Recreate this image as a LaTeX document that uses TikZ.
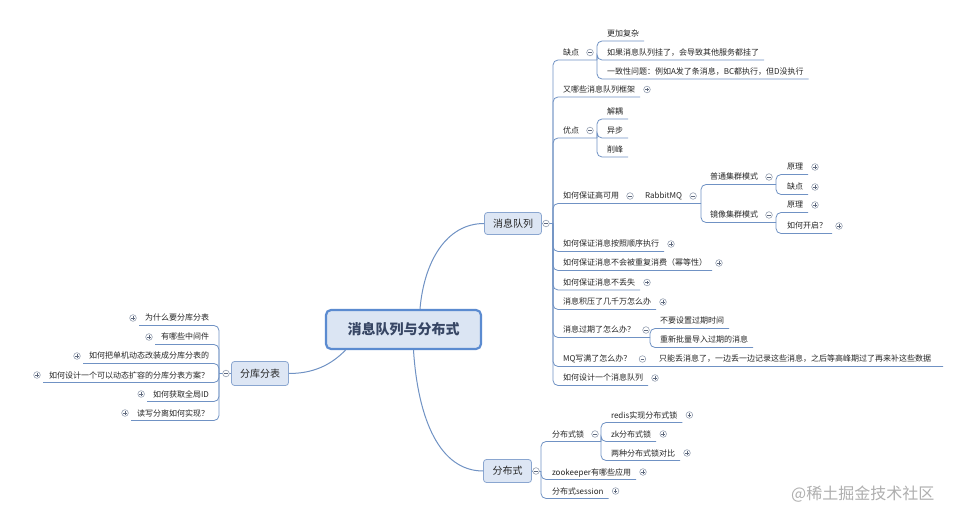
\documentclass[tikz,border=0pt]{standalone}
\usepackage{fontspec}
\setmainfont{Noto Sans CJK SC}
\usetikzlibrary{calc}
\definecolor{lineblue}{RGB}{112,146,196}
\definecolor{txtc}{RGB}{38,38,38}
\definecolor{boxfill}{RGB}{221,230,244}
\definecolor{boxdraw}{RGB}{138,166,208}
\definecolor{mainfill}{RGB}{219,229,243}
\definecolor{maindraw}{RGB}{91,139,208}
\definecolor{icondraw}{RGB}{150,160,178}
\definecolor{iconmark}{RGB}{95,105,125}
\definecolor{maintext}{RGB}{55,70,100}
\definecolor{wmgray}{RGB}{175,175,175}
\newcommand\leafR[2]{\draw[conn] (#1) |- ($(#2.south east)+(5,0)$);}
\newcommand\plusR[1]{\pic at ($(#1.south east)+(12,-7.5)$) {plusicon};}
\newcommand\minusR[1]{\pic at ($(#1.south east)+(11,-7.5)$) {minusicon};}
\newcommand\leafL[2]{\draw[conn] (#1) |- ($(#2.south west)+(-6,0)$);}
\newcommand\plusL[1]{\pic at ($(#1.south west)+(-12,-7.5)$) {plusicon};}
\begin{document}
\begin{tikzpicture}[x=1pt,y=-1pt,
  topic/.style={font=\fontsize{8}{9}\selectfont, text=txtc, inner xsep=0pt, inner ysep=4.5pt, text height=7pt, text depth=0pt, outer sep=0pt, anchor=south west},
  ltopic/.style={topic, anchor=south east},
  mainbranch/.style={draw=boxdraw, line width=0.8pt, fill=boxfill, rounded corners=3pt, font=\fontsize{10}{12}\selectfont, text=txtc, inner sep=0pt},
  conn/.style={draw=lineblue, line width=0.8pt, rounded corners=5pt},
  mainconn/.style={draw=lineblue, line width=1pt},
  plusicon/.pic={\draw[icondraw, fill=white, line width=0.6pt] (0,0) circle (3.3pt); \draw[iconmark, line width=0.7pt] (-1.8pt,0) -- (1.8pt,0) (0,-1.8pt) -- (0,1.8pt);},
  minusicon/.pic={\draw[icondraw, fill=white, line width=0.6pt] (0,0) circle (3.3pt); \draw[iconmark, line width=0.7pt] (-1.8pt,0) -- (1.8pt,0);}
]
\fill[white] (0,0) rectangle (967,521);
\useasboundingbox (0,0) rectangle (967,521);

% root and main branches
\node[draw=maindraw, line width=2.2pt, fill=mainfill, rounded corners=5pt, minimum width=155pt, minimum height=39pt, inner sep=0pt, font=\fontsize{14}{16}\selectfont\bfseries, text=maintext] (root) at (403.5,329.5) {消息队列与分布式};
\node[mainbranch, minimum width=57pt, minimum height=22pt] (mq) at (513,223.5) {消息队列};
\node[mainbranch, minimum width=48pt, minimum height=23pt] (dist) at (507.5,471) {分布式};
\node[mainbranch, minimum width=57pt, minimum height=24pt] (db) at (260,373.5) {分库分表};

\draw[mainconn] ([xshift=16.5pt]root.north) .. controls (424,262) and (446,223.5) .. (mq.west);
\draw[mainconn] ([xshift=10pt]root.south) .. controls (418,420) and (440,471) .. (dist.west);
\draw[mainconn] ([xshift=-58pt]root.south) .. controls (330,366) and (312,373.5) .. (db.east);

% ---------------- 消息队列 ----------------
\coordinate (mqj) at (553,223.5);
\draw[conn] (mq.east) -- (mqj);

\node[topic] (qd) at (563,60) {缺点};
\node[topic] (qd1) at (607,41) {更加复杂};
\node[topic] (qd2) at (607,60) {如果消息队列挂了，会导致其他服务都挂了};
\node[topic] (qd3) at (607,79) {一致性问题：例如A发了条消息，BC都执行，但D没执行};
\node[topic] (kj) at (563,97) {又哪些消息队列框架};
\node[topic] (yd) at (563,138) {优点};
\node[topic] (yd1) at (607,119) {解耦};
\node[topic] (yd2) at (607,138) {异步};
\node[topic] (yd3) at (607,157) {削峰};
\node[topic] (gky) at (563,203.5) {如何保证高可用};
\node[topic] (rmq) at (645,203.5) {RabbitMQ};
\node[topic] (pt) at (710,184.5) {普通集群模式};
\node[topic] (pt1) at (787,174.5) {原理};
\node[topic] (pt2) at (787,194.5) {缺点};
\node[topic] (jx) at (710,222.5) {镜像集群模式};
\node[topic] (jx1) at (787,212.5) {原理};
\node[topic] (jx2) at (787,233.5) {如何开启？};
\node[topic] (sx) at (563,251.5) {如何保证消息按照顺序执行};
\node[topic] (cf) at (563,270.5) {如何保证消息不会被重复消费（幂等性）};
\node[topic] (ds) at (563,290) {如何保证消息不丢失};
\node[topic] (jy) at (563,309.5) {消息积压了几千万怎么办};
\node[topic] (gq) at (563,337.5) {消息过期了怎么办？};
\node[topic] (gq1) at (660,328.5) {不要设置过期时间};
\node[topic] (gq2) at (660,347.5) {重新批量导入过期的消息};
\node[topic] (mqm) at (563,366.5) {MQ写满了怎么办？};
\node[topic] (mqm1) at (659,366.5) {只能丢消息了，一边丢一边记录这些消息，之后等高峰期过了再来补这些数据};
\node[topic] (sj) at (563,385.5) {如何设计一个消息队列};

% 缺点
\coordinate (qdj) at (597,60);
\draw[conn] (mqj) |- (qdj);
\leafR{qdj}{qd1} \leafR{qdj}{qd2} \leafR{qdj}{qd3}
% 又哪些
\leafR{mqj}{kj}
% 优点
\coordinate (ydj) at (597,138);
\draw[conn] (mqj) |- (ydj);
\leafR{ydj}{yd1} \leafR{ydj}{yd2} \leafR{ydj}{yd3}
% 高可用
\coordinate (rmqj) at (701,203.5);
\draw[conn] (mqj) |- (rmqj);
\coordinate (ptj) at (776,184.5);
\coordinate (jxj) at (776,222.5);
\draw[conn] (rmqj) |- (ptj);
\draw[conn] (rmqj) |- (jxj);
\leafR{ptj}{pt1} \leafR{ptj}{pt2}
\leafR{jxj}{jx1} \leafR{jxj}{jx2}
% others
\leafR{mqj}{sx} \leafR{mqj}{cf} \leafR{mqj}{ds} \leafR{mqj}{jy}
\coordinate (gqj) at (650,337.5);
\draw[conn] (mqj) |- (gqj);
\leafR{gqj}{gq1} \leafR{gqj}{gq2}
\draw[conn] (mqj) |- ($(mqm1.south east)+(12,0)$);
\leafR{mqj}{sj}

% icons
\pic at (546,223.5) {minusicon};
\minusR{qd} \minusR{yd} \minusR{gky} \minusR{rmq} \minusR{pt} \minusR{jx} \minusR{gq} \minusR{mqm}
\plusR{kj} \plusR{pt1} \plusR{pt2} \plusR{jx1} \plusR{jx2}
\plusR{sx} \plusR{cf} \plusR{ds} \plusR{jy} \plusR{sj}

% ---------------- 分库分表 ----------------
\coordinate (dbj) at (219,373.5);
\draw[conn] (db.west) -- (dbj);
\node[ltopic] (f1) at (209,325.5) {为什么要分库分表};
\node[ltopic] (f2) at (209,344.5) {有哪些中间件};
\node[ltopic] (f3) at (209,363.5) {如何把单机动态改装成分库分表的};
\node[ltopic] (f4) at (209,382.5) {如何设计一个可以动态扩容的分库分表方案？};
\node[ltopic] (f5) at (209,401.5) {如何获取全局ID};
\node[ltopic] (f6) at (209,420.5) {读写分离如何实现？};
\leafL{dbj}{f1} \leafL{dbj}{f2} \leafL{dbj}{f3} \leafL{dbj}{f4} \leafL{dbj}{f5} \leafL{dbj}{f6}
\pic at (226,373.5) {minusicon};
\plusL{f1} \plusL{f2} \plusL{f3} \plusL{f4} \plusL{f5} \plusL{f6}

% ---------------- 分布式 ----------------
\coordinate (dj) at (541,471);
\draw[conn] (dist.east) -- (dj);
\node[topic] (fbs) at (552,441.5) {分布式锁};
\node[topic] (r1) at (611,422.5) {redis实现分布式锁};
\node[topic] (r2) at (611,441.5) {zk分布式锁};
\node[topic] (r3) at (611,460.5) {两种分布式锁对比};
\node[topic] (zk) at (552,479.5) {zookeeper有哪些应用};
\node[topic] (ss) at (552,498.5) {分布式session};
\coordinate (fbsj) at (601,441.5);
\draw[conn] (dj) |- (fbsj);
\leafR{fbsj}{r1} \leafR{fbsj}{r2} \leafR{fbsj}{r3}
\leafR{dj}{zk} \leafR{dj}{ss}
\pic at (536,471) {minusicon};
\minusR{fbs}
\plusR{r1} \plusR{r2} \plusR{r3} \plusR{zk} \plusR{ss}

% watermark
\node[font=\fontsize{16}{18}\selectfont, text=wmgray, anchor=west, inner sep=0pt] (wm) at (791,494) {@稀土掘金技术社区};
\end{tikzpicture}
\end{document}
